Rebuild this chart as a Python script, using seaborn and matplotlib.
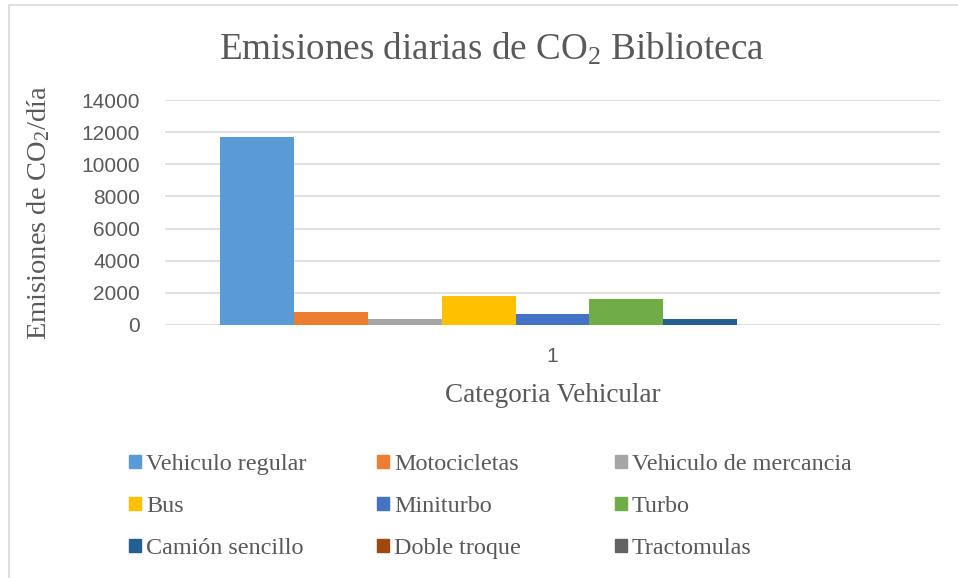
import seaborn as sns
import matplotlib.pyplot as plt
import pandas as pd
from matplotlib.lines import Line2D

categorias = ['Vehiculo regular', 'Motocicletas', 'Vehiculo de mercancia',
              'Bus', 'Miniturbo', 'Turbo',
              'Camión sencillo', 'Doble troque', 'Tractomulas']
emisiones = [11690, 810, 375, 1810, 690, 1625, 375, 0, 0]
colores = ['#5B9BD5', '#ED7D31', '#A5A5A5', '#FFC000', '#4472C4',
           '#70AD47', '#255E91', '#9E480E', '#636363']
grupo = ['1'] * len(categorias)
yticks = [0, 2000, 4000, 6000, 8000, 10000, 12000, 14000]

df = pd.DataFrame({'grupo': grupo, 'categoria': categorias, 'emisiones': emisiones})

sns.set_style('white')
plt.rcParams['font.family'] = ['Liberation Serif', 'DejaVu Serif']
plt.rcParams['mathtext.fontset'] = 'custom'
plt.rcParams['mathtext.rm'] = 'Liberation Serif'
plt.rcParams['mathtext.it'] = 'Liberation Serif:italic'

gris = '#595959'

fig = plt.figure(figsize=(9.58, 5.78), dpi=100)
ax = fig.add_axes([165 / 958, 1 - 325 / 578, 775 / 958, 225 / 578])

sns.barplot(data=df, x='grupo', y='emisiones', hue='categoria',
            hue_order=categorias, palette=colores, width=0.859,
            saturation=1, linewidth=0, ax=ax, legend=False)

ax.set_xlim(-0.5, 0.5)
ax.set_ylim(0, 14000)
ax.set_yticks(yticks)
ax.set_yticklabels([str(v) for v in yticks], family='Liberation Sans',
                   fontsize=15, color=gris)
ax.set_xticks([0])
ax.set_xticklabels(['1'], family='Liberation Sans', fontsize=15, color=gris)
ax.tick_params(axis='x', length=0, pad=16)
ax.tick_params(axis='y', length=0, pad=18)
ax.grid(axis='y', color='#D9D9D9', linewidth=1.2)
ax.set_axisbelow(True)
for s in ax.spines.values():
    s.set_visible(False)

ax.set_xlabel('Categoria Vehicular', fontsize=19.5, color=gris, labelpad=12)
ax.set_ylabel('Emisiones de CO$_2$/día', fontsize=20.5, color=gris, labelpad=21)

fig.text(0.513, 1 - 49 / 578, 'Emisiones diarias de CO$_2$ Biblioteca',
         ha='center', va='center', fontsize=26.7, color=gris)

# leyenda en tres columnas (orden por filas como en el original)
handles = [plt.Rectangle((0, 0), 1, 1, color=c) for c in colores]
xs = [129, 377, 615]
for j in range(3):
    idx = [j, j + 3, j + 6]
    leg = fig.legend([handles[i] for i in idx], [categorias[i] for i in idx],
                     loc='upper left', bbox_to_anchor=(xs[j] / 958, 1 - 454 / 578),
                     frameon=False, fontsize=17.4, handlelength=0.5,
                     handleheight=0.5, handletextpad=0.2, labelspacing=0.87,
                     borderpad=0, borderaxespad=0)
    for t in leg.get_texts():
        t.set_color(gris)

# borde del area del grafico
fig.add_artist(Line2D([9 / 958, 9 / 958], [0, 1 - 5 / 578], color='#D9D9D9', lw=1.2))
fig.add_artist(Line2D([9 / 958, 1], [1 - 5 / 578, 1 - 5 / 578], color='#D9D9D9', lw=1.2))

plt.savefig('out.png', dpi=100)
